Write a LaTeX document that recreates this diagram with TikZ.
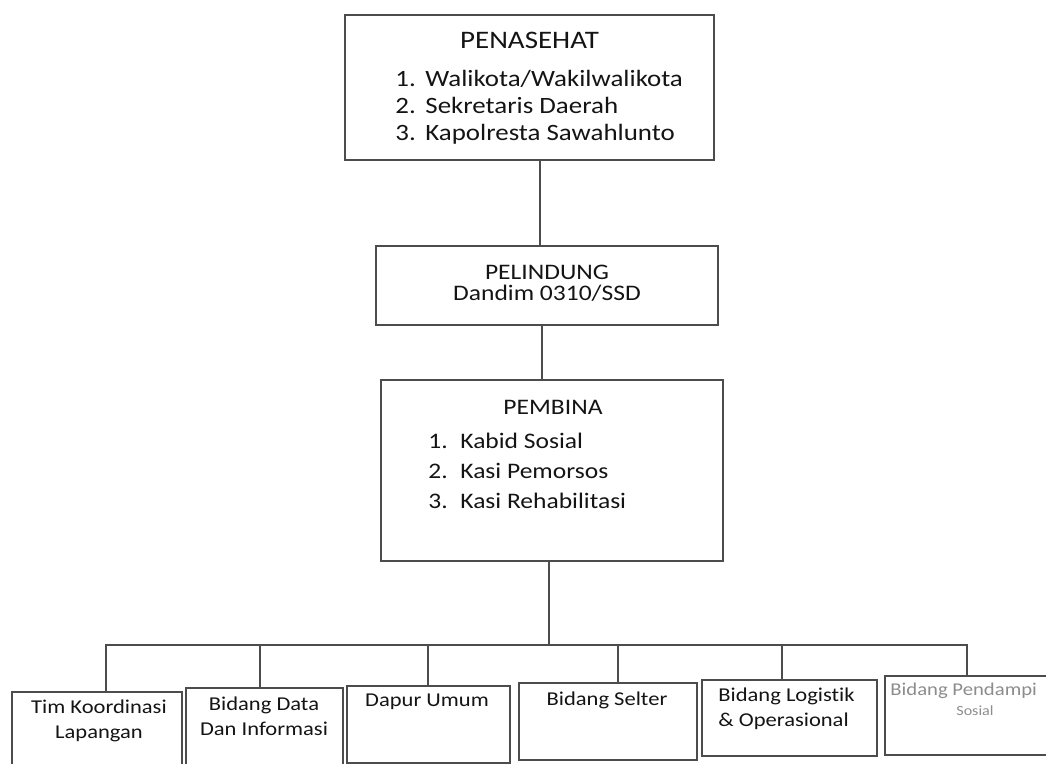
\documentclass[tikz,border=0pt]{standalone}
\usepackage{fontspec}
\setmainfont[Ligatures=NoCommon]{Carlito}
\definecolor{linec}{gray}{0.3}
\definecolor{inkc}{gray}{0.08}
\definecolor{fadec}{gray}{0.55}
\newcommand{\widetxt}[1]{\scalebox{1.15}[1]{#1}}
\tikzset{box node/.style={rectangle,draw=linec,line width=0.65pt,inner sep=0pt},
         txt/.style={inner sep=0pt,text=inkc},
         list/.style={txt,anchor=base west},
         head/.style={txt,anchor=base},
         conn/.style={draw=linec,line width=0.65pt}
}

\begin{document}
\begin{tikzpicture}[x=0.5pt,y=-0.5pt,
big/.style={font=\fontsize{12.6}{15}\selectfont},
large/.style={font=\fontsize{11.7}{14}\selectfont},
mid/.style={font=\fontsize{11.1}{13}\selectfont},
small/.style={font=\fontsize{9.8}{11}\selectfont}]
\path[use as bounding box,clip] (0,0) rectangle (1046,764);
% \draw[help lines] (0,0) grid[step=50] (1046,764);
\node[box node,minimum width=184.5pt,minimum height=72.5pt] (penasehat) at (529.5,87.5) {};
\node[box node,minimum width=171pt,minimum height=39.5pt] (pelindung) at (547,285.5) {};
\node[box node,minimum width=171pt,minimum height=90.5pt] (pembina) at (552,470.5) {};
\node[box node,minimum width=85pt,minimum height=39pt] (tim) at (97,731) {};
\node[box node,minimum width=78.5pt,minimum height=41pt] (data) at (264.5,729) {};
\node[box node,minimum width=81.5pt,minimum height=38.5pt] (dapur) at (428.5,724.5) {};
\node[box node,minimum width=89pt,minimum height=38.5pt] (selter) at (608,721.5) {};
\node[box node,minimum width=87.5pt,minimum height=38pt] (logistik) at (789.5,718) {};
\node[box node,minimum width=92.5pt,minimum height=39.5pt] (pendampi) at (977.5,715.5) {};

\node[head,big] (penasehat title) at (529.5,48.5) {\widetxt{PENASEHAT}};
\node[list,large] (pn1) at (395,87) {\widetxt{1.}};
\node[list,large] (pn2) at (395,114) {\widetxt{2.}};
\node[list,large] (pn3) at (395,141) {\widetxt{3.}};
\node[list,large] (pt1) at (425,87) {\widetxt{Walikota/Wakilwalikota}};
\node[list,large] (pt2) at (425,114) {\widetxt{Sekretaris Daerah}};
\node[list,large] (pt3) at (425,141) {\widetxt{Kapolresta Sawahlunto}};

\node[head,mid] (pelindung title) at (547,280) {\widetxt{PELINDUNG}};
\node[head,mid] (pelindung name) at (547,301) {\widetxt{Dandim 0310/SSD}};

\node[head,mid] (pembina title) at (553,415) {\widetxt{PEMBINA}};
\node[list,mid] (bn1) at (428,449) {\widetxt{1.}};
\node[list,mid] (bn2) at (428,479) {\widetxt{2.}};
\node[list,mid] (bn3) at (428,509) {\widetxt{3.}};
\node[list,mid] (bt1) at (460,449) {\widetxt{Kabid Sosial}};
\node[list,mid] (bt2) at (460,479) {\widetxt{Kasi Pemorsos}};
\node[list,mid] (bt3) at (460,509) {\widetxt{Kasi Rehabilitasi}};

\node[head,small] (tim a) at (99,714) {\widetxt{Tim Koordinasi}};
\node[head,small] (tim b) at (99,739) {\widetxt{Lapangan}};
\node[head,small] (data a) at (264,711) {\widetxt{Bidang Data}};
\node[head,small] (data b) at (264,736) {\widetxt{Dan Informasi}};
\node[head,small] (dapur a) at (427,707) {\widetxt{Dapur Umum}};
\node[head,small] (selter a) at (607,706) {\widetxt{Bidang Selter}};
\node[list,small] (logistik a) at (718,702) {\widetxt{Bidang Logistik}};
\node[list,small] (logistik b) at (718,727) {\widetxt{\& Operasional}};
\node[list,text=fadec,font=\fontsize{9}{11}\selectfont] (pendampi a) at (890,696) {\widetxt{Bidang Pendampi}};
\node[head,text=fadec,font=\fontsize{7}{8}\selectfont] (pendampi b) at (975,716) {\widetxt{Sosial}};

\coordinate (drop1) at (540,0);
\coordinate (drop2) at (542,0);
\coordinate (busM) at (549,645);
\coordinate (busL) at (106,645);
\coordinate (busR) at (967,645);
\draw[conn] (penasehat.south -| drop1) -- (pelindung.north -| drop1);
\draw[conn] (pelindung.south -| drop2) -- (pembina.north -| drop2);
\draw[conn] (pembina.south -| busM) -- (busM);
\draw[conn] (tim.north -| busL) -- (busL) -- (busR) -- (pendampi.north -| busR);
\foreach \n/\x in {data/260,dapur/428,selter/618,logistik/782}
    \draw[conn] (\x,645) -- (\n.north -| \x,645);

\end{tikzpicture}
\end{document}
